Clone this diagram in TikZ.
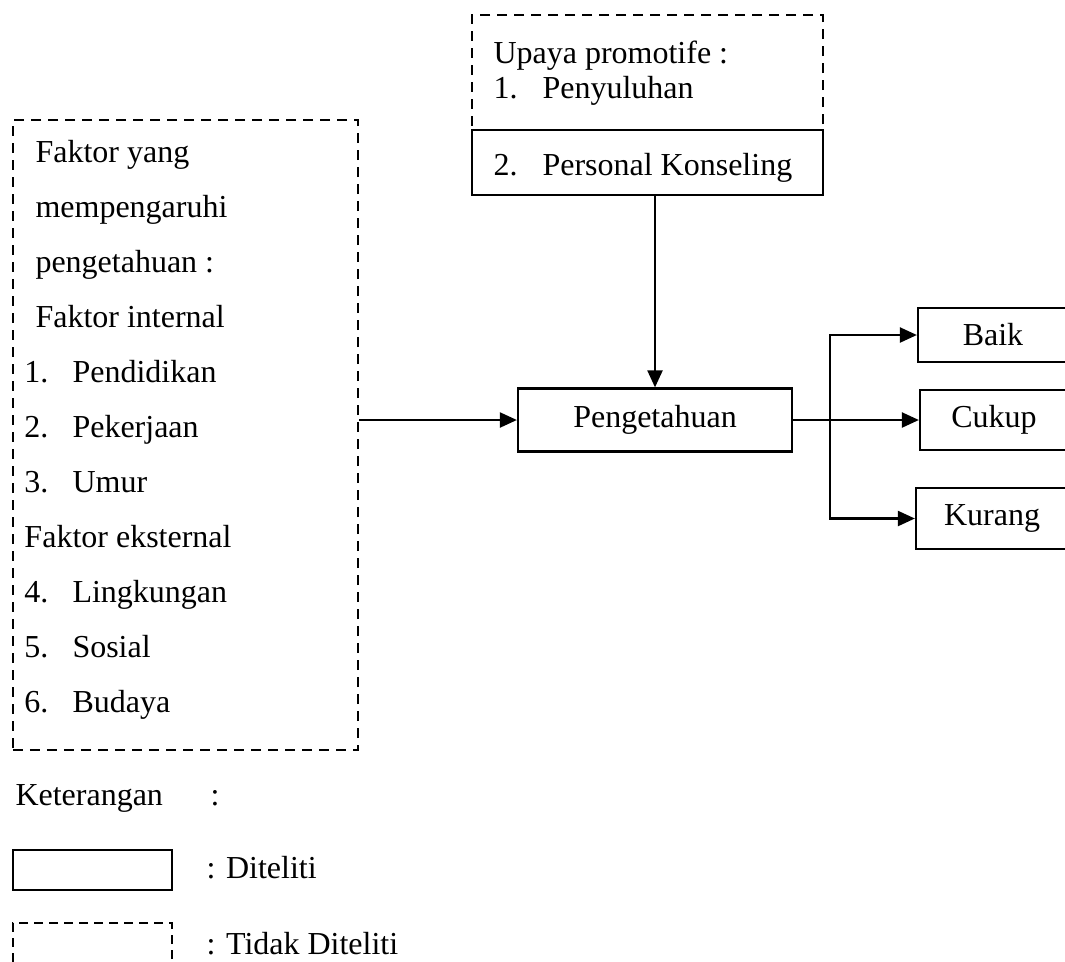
\documentclass[tikz,border=0pt]{standalone}
\usepackage{fontspec}
\setmainfont{Liberation Serif}
\usetikzlibrary{arrows.meta}

\tikzset{
  kotak/.style={draw,line width=0.9pt,inner sep=0pt},
  putus/.style={kotak,dash pattern=on 4pt off 2.8pt},
  teks/.style={anchor=base west,inner sep=0pt},
  panah/.style={line width=0.9pt,-{Triangle[length=6.8pt,width=6pt]}},
}

\begin{document}
\begin{tikzpicture}[x=0.4pt,y=-0.4pt,line cap=butt,line join=miter,
    font=\fontsize{12.8}{14}\selectfont]
  \useasboundingbox (0,0) rectangle (1065,961);

  % upaya promotif
  \node[putus,minimum width=140.4pt,minimum height=46pt] (promotif) at (647.5,72.5) {};
  \node[kotak,minimum width=140.4pt,minimum height=26pt] (konseling) at (647.5,162.5) {};
  \node[teks] (upaya) at (493,63) {Upaya promotife :};
  \node[teks] (no1) at (493,98) {1.};
  \node[teks] (penyuluhan) at (542,98) {Penyuluhan};
  \node[teks] (no2) at (493,175) {2.};
  \node[teks] (personal) at (542,175) {Personal Konseling};

  % faktor yang mempengaruhi
  \node[putus,minimum width=138pt,minimum height=252pt] (faktor) at (185.5,435) {};
  \foreach \y/\t [count=\i] in {162/Faktor yang,217/mempengaruhi,
      272/pengetahuan :,327/Faktor internal}
    \node[teks] (judul\i) at (35,\y) {\t};
  \foreach \y/\n/\t in {382/1/Pendidikan,437/2/Pekerjaan,492/3/Umur,
      602/4/Lingkungan,657/5/Sosial,712/6/Budaya} {
    \node[teks] (nomor\n) at (24,\y) {\n.};
    \node[teks] (item\n) at (72,\y) {\t};
  }
  \node[teks] (eksternal) at (24,547) {Faktor eksternal};

  % pengetahuan dan kategori
  \node[kotak,minimum width=109.6pt,minimum height=25.2pt] (peng) at (655,420) {Pengetahuan};
  \node[kotak,minimum width=60pt,minimum height=21.6pt] (baik) at (993,335) {Baik};
  \node[kotak,minimum width=59.2pt,minimum height=24pt] (cukup) at (994,420) {Cukup};
  \node[kotak,minimum width=60.8pt,minimum height=24.4pt] (kurang) at (992,518.5) {Kurang};
  \coordinate (cabang) at (830,420);

  \draw[panah] (peng.north |- konseling.south) -- (peng.north);
  \draw[panah] (faktor.east |- peng.west) -- (peng.west);
  \draw[line width=0.9pt] (peng.east) -- (cabang);
  \draw[panah] (cabang) |- (baik.west);
  \draw[panah] (cabang) -- (cukup.west);
  \draw[panah] (cabang) |- (kurang.west);

  % keterangan
  \node[teks] (ket) at (15,805) {Keterangan};
  \node[teks] (ketdua) at (210,805) {:};
  \node[kotak,minimum width=63.6pt,minimum height=16pt] (diteliti) at (92.5,870) {};
  \node[teks] (tditeliti) at (206,878) {: Diteliti};
  \node[putus,dash pattern=on 3.6pt off 2.4pt,minimum width=63.6pt,minimum height=22.8pt] (tidak) at (92.5,951.5) {};
  \node[teks] (ttidak) at (206,954) {: Tidak Diteliti};
\end{tikzpicture}
\end{document}
